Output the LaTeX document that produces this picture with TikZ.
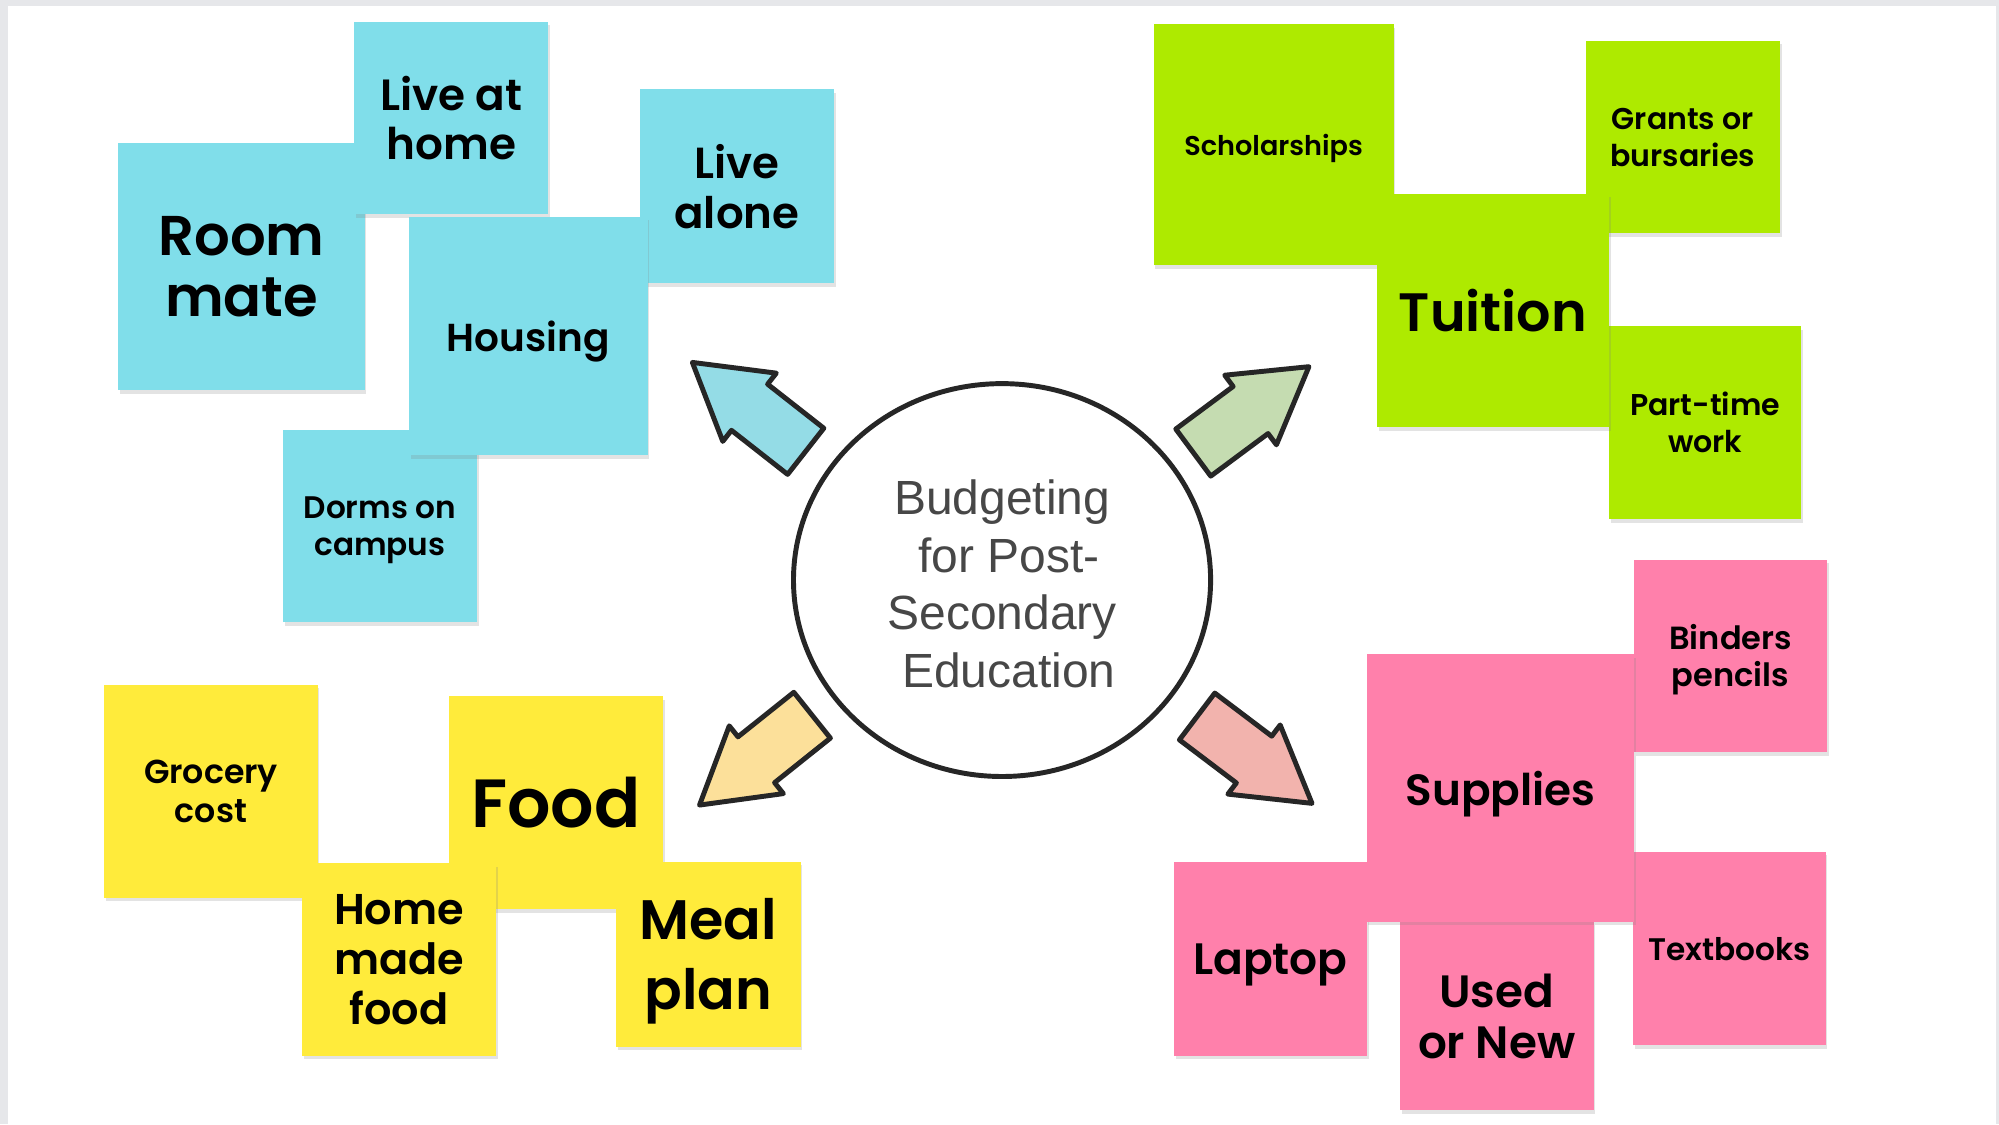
\documentclass[tikz,border=0pt]{standalone}
\usepackage{fontspec}
\setmainfont{Liberation Sans}
\newfontfamily\notefont{Poppins}[UprightFont={* SemiBold}]
\usetikzlibrary{shadows,shapes.geometric}

\definecolor{notecyan}{HTML}{80DEEA}
\definecolor{notelime}{HTML}{AEEA00}
\definecolor{noteyellow}{HTML}{FFEB3B}
\definecolor{notepink}{HTML}{FF80AB}
\definecolor{arrcyan}{HTML}{94DCE6}
\definecolor{arrgreen}{HTML}{C5DCB1}
\definecolor{arryellow}{HTML}{FCE09A}
\definecolor{arrpink}{HTML}{F2B3AD}
\definecolor{inkgray}{HTML}{262626}
\definecolor{hubtext}{HTML}{474747}
\definecolor{framegray}{HTML}{E6E7EA}

% note font: size and baselineskip in pt
\newcommand{\fs}[2]{\notefont\fontsize{#1}{#2}\selectfont}

% block arrow: fill, tail centre, direction
\newcommand{\blockarrow}[3]{%
  \draw[arrowline, fill=#1, shift={#2}, rotate=#3]
    (0,23) -- (56,23) -- (56,34) -- (113,0) -- (56,-34) -- (56,-23) -- (0,-23) -- cycle;}

\begin{document}
\begin{tikzpicture}[
    x=0.01cm, y=-0.01cm,
    note/.style={rectangle, inner sep=0pt, align=center, text=black, text depth=0pt,
      drop shadow={shadow xshift=0.4pt, shadow yshift=-0.8pt, opacity=0.22}},
    cyannote/.style={note, fill=notecyan},
    limenote/.style={note, fill=notelime},
    yellownote/.style={note, fill=noteyellow},
    pinknote/.style={note, fill=notepink},
    arrowline/.style={draw=inkgray, line width=1.1pt, line join=round},
    hub/.style={ellipse, draw=inkgray, line width=1.1pt, fill=white,
      minimum width=3.27cm, minimum height=3.08cm},
    hubtext/.style={align=center, text=hubtext, font=\fontsize{10.7}{12.8}\selectfont}
]

\useasboundingbox (0,0) rectangle (1568,882);

% Slide frame
\fill[framegray] (0,0) rectangle (1568,882);
\fill[white] (6,4.5) rectangle (1565.5,882);

% Housing
\node[cyannote, minimum width=1.93cm, minimum height=1.94cm, font=\fs{12.5}{13.7}]
  (roommate) at (189.5,209) {Room\\mate};
\node[cyannote, minimum width=1.52cm, minimum height=1.51cm, font=\fs{9.75}{11.1}]
  (livehome) at (354,92.5) {Live at\\home};
\node[cyannote, minimum width=1.52cm, minimum height=1.51cm, font=\fs{6.95}{8.25}]
  (dorms) at (298,412.5) {Dorms on\\campus};
\node[cyannote, minimum width=1.52cm, minimum height=1.52cm, font=\fs{9.7}{11.1}]
  (livealone) at (578,146) {Live\\alone};
\node[cyannote, minimum width=1.87cm, minimum height=1.87cm, font=\fs{8.7}{10}]
  (housing) at (414.5,263.5) {Housing};

% Tuition
\node[limenote, minimum width=1.88cm, minimum height=1.89cm, font=\fs{6.05}{7.5}]
  (scholar) at (999,113.5) {Scholarships};
\node[limenote, minimum width=1.52cm, minimum height=1.51cm, font=\fs{6.7}{8.25}]
  (grants) at (1320,107.5) {Grants or\\bursaries};
\node[limenote, minimum width=1.51cm, minimum height=1.51cm, font=\fs{6.7}{8.25}]
  (parttime) at (1337.5,331.5) {Part-time\\work};
\node[limenote, minimum width=1.82cm, minimum height=1.83cm, font=\fs{12.05}{13}]
  (tuition) at (1171,243.5) {Tuition};

% Food
\node[yellownote, minimum width=1.67cm, minimum height=1.67cm, font=\fs{7.4}{8.8}]
  (grocery) at (165.5,620.5) {Grocery\\cost};
\node[yellownote, minimum width=1.68cm, minimum height=1.67cm, font=\fs{15.2}{16}]
  (food) at (436,629.5) {Food};
\node[yellownote, minimum width=1.52cm, minimum height=1.51cm, font=\fs{9.6}{11.2}]
  (homemade) at (313,752.5) {Home\\made\\food};
\node[yellownote, minimum width=1.45cm, minimum height=1.45cm, font=\fs{12.4}{15.6}]
  (mealplan) at (555.5,748.5) {Meal\\plan};

% Supplies
\node[pinknote, minimum width=1.51cm, minimum height=1.51cm, font=\fs{7.15}{8.25}]
  (binders) at (1357.5,514.5) {Binders\\pencils};
\node[pinknote, minimum width=1.51cm, minimum height=1.52cm, font=\fs{9.8}{11}]
  (laptop) at (996.5,752) {Laptop};
\node[pinknote, minimum width=1.52cm, minimum height=1.48cm, font=\fs{10.1}{11.4}]
  (usednew) at (1174,797) {Used\\or New};
\node[pinknote, minimum width=1.51cm, minimum height=1.52cm, font=\fs{6.95}{8.25}]
  (textbooks) at (1356.5,744) {Textbooks};
\node[pinknote, minimum width=2.10cm, minimum height=2.10cm, font=\fs{9.75}{11}]
  (supplies) at (1177,618) {Supplies};

% Centre
\node[hub] (budget) at (786,455) {};
\node[hubtext] (budgetlabel) at (786,458)
  {Budgeting\\\hspace{3pt}for Post-\\Secondary\\\hspace{3pt}Education};

% Arrows out of the centre
\blockarrow{arrcyan}{(632,354)}{141.9}
\blockarrow{arrgreen}{(936,355)}{36.6}
\blockarrow{arryellow}{(637,561)}{218.6}
\blockarrow{arrpink}{(939,562)}{322.9}

\end{tikzpicture}
\end{document}
